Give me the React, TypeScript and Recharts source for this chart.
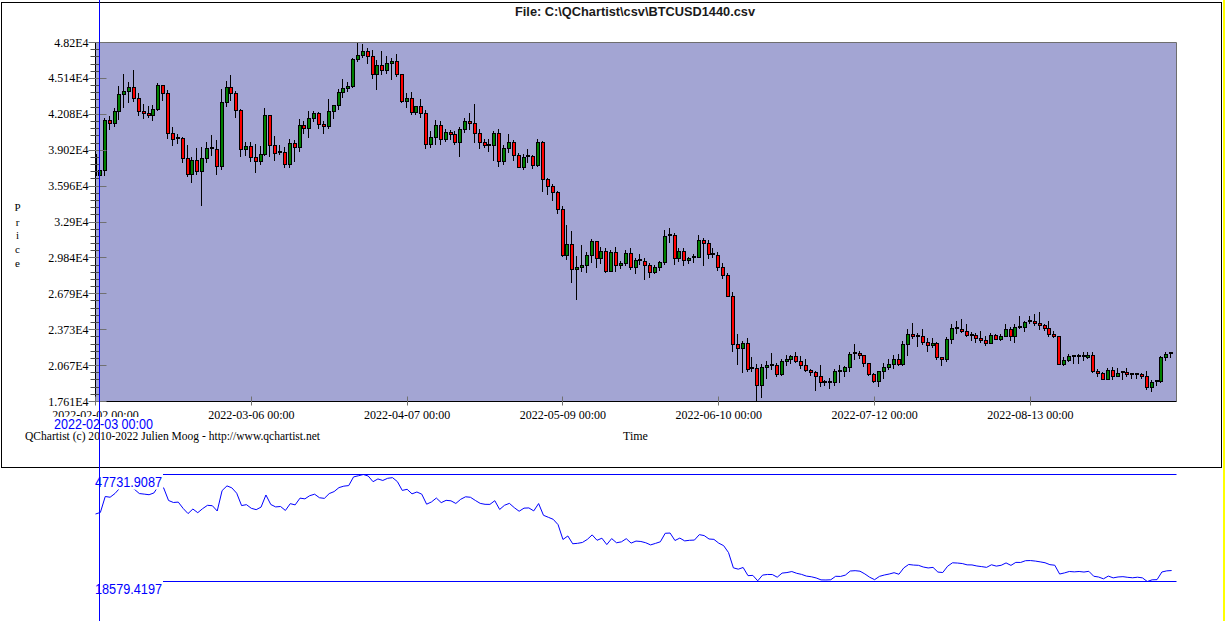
import React from 'react';
import { ComposedChart, Bar, XAxis, YAxis, CartesianGrid, ReferenceLine, LineChart, Line } from 'recharts';

const SERIF = "'Liberation Serif', 'Times New Roman', serif";
const SANS = "'Liberation Sans', Arial, sans-serif";

// BTCUSD daily candles, 2022-02-02 .. 2022-09-11 (one per day)
const opens = [
  38707, 36896, 37311, 41575, 41383, 42380, 43840, 44043, 44372, 43495,
  42373, 42217, 42053, 42535, 44544, 43873, 40515, 39974, 40080, 38386,
  37009, 38230, 37250, 38328, 39219, 39116, 37700, 43160, 44421, 43892,
  42454, 39148, 39397, 38420, 38062, 38737, 41982, 39437, 38794, 38904,
  37849, 39666, 39338, 41143, 40951, 41801, 42191, 41247, 41077, 42358,
  42892, 43960, 44348, 44500, 46820, 47128, 47465, 47062, 45538, 46281,
  45868, 46453, 46622, 45555, 43206, 43503, 42287, 42782, 42207, 39521,
  40127, 41166, 39935, 40553, 40424, 39716, 40827, 41503, 41374, 40527,
  39740, 39486, 39469, 40458, 38112, 39235, 39742, 38596, 37630, 38468,
  38525, 37728, 39690, 36552, 36013, 35472, 34038, 30076, 31017, 28936,
  29047, 29283, 30101, 31305, 29863, 30425, 28715, 30319, 29201, 29445,
  30293, 29109, 29655, 29543, 29202, 28630, 29031, 29468, 31734, 31801,
  29805, 30452, 29700, 29864, 29920, 31373, 31125, 30204, 30110, 29091,
  28424, 26574, 22487, 22136, 22584, 20401, 20469, 19018, 20554, 20720,
  20700, 19987, 21085, 21232, 21502, 21028, 20735, 20280, 20105, 19785,
  19270, 19243, 19297, 20232, 20190, 20548, 21638, 21732, 21592, 20860,
  19970, 19323, 20212, 20570, 20836, 21191, 20780, 22485, 23390, 23231,
  23164, 22714, 22465, 22609, 21361, 21239, 22930, 23843, 23777, 23643,
  23293, 23269, 22988, 22818, 22622, 23312, 22954, 23175, 23810, 23149,
  23954, 23934, 24403, 24442, 24305, 24094, 23854, 23342, 23191, 20834,
  21140, 21517, 21416, 21516, 21368, 21566, 20241, 20037, 19555, 20285,
  19811, 20050, 20131, 19951, 19832, 19986, 19813, 18837, 19290, 19329,
  21381, 21680,
];

const highs = [
  38855, 37387, 41772, 41913, 42656, 44500, 45492, 44799, 45822, 43920,
  42998, 42760, 42876, 44752, 44583, 44164, 40959, 40444, 40125, 39494,
  38429, 39249, 39300, 39683, 40300, 39855, 44225, 44949, 45400, 44102,
  42506, 39693, 39680, 39547, 39362, 42594, 42039, 40236, 39486, 39310,
  39947, 39887, 41718, 41478, 42325, 42400, 42301, 41544, 43361, 42897,
  44220, 45094, 44812, 46890, 48200, 48096, 47700, 47600, 46720, 47444,
  47030, 46890, 47200, 45555, 43900, 43970, 42800, 43410, 42414, 40699,
  41561, 41500, 40870, 40710, 40619, 40999, 41760, 42199, 42976, 40795,
  39980, 39940, 40617, 40797, 39474, 40372, 39925, 38795, 38675, 39167,
  38653, 39974, 39845, 36650, 36130, 35510, 34243, 32658, 32162, 30032,
  30976, 30334, 31460, 31305, 30788, 30700, 30545, 30777, 29624, 30487,
  30670, 29841, 30200, 29850, 29400, 29200, 29550, 32222, 32400, 31982,
  30656, 30695, 29942, 30165, 31765, 31555, 31330, 30700, 30390, 29440,
  28544, 26900, 23363, 22800, 22981, 21365, 20800, 20815, 21090, 21723,
  20880, 21210, 21534, 21600, 21861, 21520, 21200, 20418, 20180, 20750,
  19430, 19647, 20354, 20738, 20664, 21838, 22527, 21954, 21600, 20860,
  20047, 20250, 20880, 21200, 21588, 21684, 22743, 23800, 24283, 23430,
  23756, 22990, 23000, 22656, 21361, 23100, 24199, 24442, 24668, 24200,
  23500, 23462, 23647, 23221, 23462, 23354, 23400, 24245, 23934, 24200,
  24918, 24450, 24890, 25047, 25211, 24247, 24446, 23600, 23200, 21382,
  21692, 21522, 21666, 21816, 21819, 21850, 20343, 20141, 20431, 20576,
  20490, 20199, 20450, 20052, 20000, 20058, 20180, 19464, 19449, 21450,
  21795, 21830,
];

const lows = [
  36586, 36250, 36950, 40843, 41116, 41645, 42666, 43117, 43187, 42008,
  41748, 41870, 41570, 42428, 43310, 40073, 39450, 39639, 38000, 36800,
  36350, 37036, 34322, 38014, 38600, 37000, 37450, 42809, 43334, 41832,
  38550, 38587, 38088, 37155, 37867, 38656, 38539, 38223, 38660, 37578,
  37555, 38098, 38913, 40500, 40135, 41516, 40911, 40467, 40900, 41750,
  42560, 43579, 44072, 44421, 46663, 46950, 46445, 45200, 44200, 45530,
  45620, 45118, 45353, 43121, 42727, 42107, 42125, 41868, 39200, 39254,
  39588, 39551, 39766, 40019, 39546, 38536, 40571, 40820, 39751, 39177,
  39285, 38929, 38200, 37702, 37881, 38881, 38175, 37578, 37386, 38053,
  37509, 37670, 35571, 35258, 34785, 33713, 30033, 29730, 27785, 26350,
  28751, 28630, 29480, 29083, 29450, 28654, 28708, 28730, 28950, 29233,
  28900, 28600, 29294, 28020, 28260, 28565, 28850, 29300, 31200, 29302,
  29588, 29218, 29450, 29500, 29883, 29218, 29850, 29944, 28850, 28099,
  26560, 21925, 20846, 20111, 20232, 20246, 17610, 17960, 19637, 20348,
  19770, 19890, 20754, 20915, 20974, 20507, 20194, 19847, 18627, 18966,
  19010, 18781, 19055, 19305, 19762, 20242, 21190, 21320, 20655, 19875,
  19240, 18910, 19620, 20380, 20475, 20760, 20762, 21580, 23000, 22341,
  22500, 21934, 22266, 21250, 20706, 21043, 22582, 23414, 23500, 23232,
  22850, 22652, 22681, 22400, 22587, 22906, 22841, 23153, 22869, 22664,
  23855, 23590, 24298, 24150, 23773, 23693, 23181, 23077, 20783, 20761,
  21074, 20890, 20906, 21144, 21312, 20114, 19800, 19521, 19550, 19540,
  19800, 19565, 19754, 19655, 19600, 19636, 18650, 18510, 19000, 19300,
  21140, 21360,
];

const closes = [
  36896, 37311, 41575, 41383, 42380, 43840, 44043, 44372, 43495, 42373,
  42217, 42053, 42535, 44544, 43873, 40515, 39974, 40080, 38386, 37009,
  38230, 37250, 38328, 39219, 39116, 37700, 43160, 44421, 43892, 42454,
  39148, 39397, 38420, 38062, 38737, 41982, 39437, 38794, 38904, 37849,
  39666, 39338, 41143, 40951, 41801, 42191, 41247, 41077, 42358, 42892,
  43960, 44348, 44500, 46820, 47128, 47465, 47062, 45538, 46281, 45868,
  46453, 46622, 45555, 43206, 43503, 42287, 42782, 42207, 39521, 40127,
  41166, 39935, 40553, 40424, 39716, 40827, 41503, 41374, 40527, 39740,
  39486, 39469, 40458, 38112, 39235, 39742, 38596, 37630, 38468, 38525,
  37728, 39690, 36552, 36013, 35472, 34038, 30076, 31017, 28936, 29047,
  29283, 30101, 31305, 29863, 30425, 28715, 30319, 29201, 29445, 30293,
  29109, 29655, 29543, 29202, 28630, 29031, 29468, 31734, 31801, 29805,
  30452, 29700, 29864, 29920, 31373, 31125, 30204, 30110, 29091, 28424,
  26574, 22487, 22136, 22584, 20401, 20469, 19018, 20554, 20720, 20700,
  19987, 21085, 21232, 21502, 21028, 20735, 20280, 20105, 19785, 19270,
  19243, 19297, 20232, 20190, 20548, 21638, 21732, 21592, 20860, 19970,
  19323, 20212, 20570, 20836, 21191, 20780, 22485, 23390, 23231, 23164,
  22714, 22465, 22609, 21361, 21239, 22930, 23843, 23777, 23643, 23293,
  23269, 22988, 22818, 22622, 23312, 22954, 23175, 23810, 23149, 23954,
  23934, 24403, 24442, 24305, 24094, 23854, 23342, 23191, 20834, 21140,
  21517, 21416, 21516, 21368, 21566, 20241, 20037, 19555, 20285, 19811,
  20050, 20131, 19951, 19832, 19986, 19813, 18837, 19290, 19329, 21381,
  21680, 21769,
];

const xTickDays = [0, 32, 64, 96, 128, 160, 192];
const xTickLabels = [
  '2022-02-02 00:00', '2022-03-06 00:00', '2022-04-07 00:00', '2022-05-09 00:00',
  '2022-06-10 00:00', '2022-07-12 00:00', '2022-08-13 00:00',
];
const yTickLabels = [
  '4.82E4', '4.514E4', '4.208E4', '3.902E4', '3.596E4', '3.29E4',
  '2.984E4', '2.679E4', '2.373E4', '2.067E4', '1.761E4',
];
const titleText = 'File: C:\\QChartist\\csv\\BTCUSD1440.csv';
const xAxisTitle = 'Time';
const yAxisTitleLetters = ['P', 'r', 'i', 'c', 'e'];
const creditText = 'QChartist (c) 2010-2022 Julien Moog - http://www.qchartist.net';
const cursorLabel = '2022-02-03 00:00';
const lineMaxLabel = '47731.9087';
const lineMinLabel = '18579.4197';

const priceLow = Math.min(...lows);
const priceHigh = Math.max(...highs);
const xDomainMax = closes.length;
const closeMin = Math.min(...closes);
const closeMax = Math.max(...closes);

const candles = closes.map((c, i) => ({
  day: i,
  open: opens[i],
  high: highs[i],
  low: lows[i],
  close: c,
  range: [lows[i], highs[i]],
}));
const closeLine = closes.map((c, i) => ({ day: i, close: c }));

const Y_MINOR = 50;
const yStep = (priceHigh - priceLow) / Y_MINOR;
const yTicks = Array.from({ length: Y_MINOR + 1 }, (_, k) => priceHigh - k * yStep);

function Candle(props: any) {
  const { x, y, width, height, payload } = props;
  if (!payload || x == null || y == null) return null;
  const top = Math.min(y, y + height);
  const bot = Math.max(y, y + height);
  const span = payload.high - payload.low || 1;
  const py = (p: number) => top + ((payload.high - p) / span) * (bot - top);
  const cx = x + width / 2;
  const left = Math.round(cx - 2);
  const wx = left + 1.5;
  const yo = py(payload.open);
  const yc = py(payload.close);
  const t = Math.round(Math.min(yo, yc));
  const b = Math.round(Math.max(yo, yc));
  const fill = payload.close >= payload.open ? '#008000' : '#FF0000';
  return (
    <g>
      <line x1={wx} x2={wx} y1={Math.round(top)} y2={Math.round(bot) + 1} stroke="#000" strokeWidth={1} />
      {b - t >= 2 ? (
        <rect x={left + 0.5} y={t + 0.5} width={3} height={b - t} fill={fill} stroke="#000" strokeWidth={1} />
      ) : (
        <rect x={left} y={t - 1} width={4} height={2} fill="#000" />
      )}
    </g>
  );
}

function YTick(props: any) {
  const { x, y, payload } = props;
  const k = Math.round((priceHigh - payload.value) / yStep);
  const yy = Math.floor(y) + 0.5;
  if (k % 5 === 0) {
    return (
      <g>
        <line x1={x - 7} x2={x + 11} y1={yy} y2={yy} stroke="#707070" strokeWidth={1} />
        <text x={x - 7} y={y + 4} textAnchor="end" fontFamily={SERIF} fontSize={12} fill="#000">
          {yTickLabels[k / 5]}
        </text>
      </g>
    );
  }
  return <line x1={x - 5} x2={x + 4} y1={yy} y2={yy} stroke="#4a4a4a" strokeWidth={1} />;
}

function XTick(props: any) {
  const { x, y, payload } = props;
  const i = xTickDays.indexOf(payload.value);
  const xx = Math.floor(x) + 0.5;
  return (
    <g>
      <line x1={xx} x2={xx} y1={y - 5} y2={y + 4} stroke="#707070" strokeWidth={1} />
      <text x={x} y={y + 17} textAnchor="middle" fontFamily={SERIF} fontSize={12} fill="#000">
        {i >= 0 ? xTickLabels[i] : ''}
      </text>
    </g>
  );
}

export default function App() {
  return (
    <div style={{ position: 'absolute', left: 0, top: 0, width: 1225, height: 621, background: '#fff', overflow: 'hidden' }}>
      <div style={{ position: 'absolute', left: 0, top: 0 }}>
        <ComposedChart
          width={1225}
          height={470}
          data={candles}
          margin={{ top: 42.5, right: 48.5, bottom: 38.5, left: 35.5 }}
        >
          <CartesianGrid horizontal={false} vertical={false} fill="#A3A5D3" fillOpacity={1} />
          <XAxis
            type="number"
            dataKey="day"
            domain={[0, xDomainMax]}
            ticks={xTickDays}
            interval={0}
            allowDataOverflow
            height={30}
            tickSize={0}
            tickMargin={0}
            tickLine={false}
            axisLine={{ stroke: '#000' }}
            tick={<XTick />}
          />
          <YAxis
            type="number"
            domain={[priceLow, priceHigh]}
            ticks={yTicks}
            interval={0}
            allowDataOverflow
            width={60}
            tickSize={0}
            tickMargin={0}
            tickLine={false}
            axisLine={{ stroke: '#000' }}
            tick={<YTick />}
          />
          <ReferenceLine y={priceHigh} stroke="#6E6E6E" />
          <ReferenceLine x={xDomainMax} stroke="#6E6E6E" />
          <Bar dataKey="range" barSize={4} shape={<Candle />} isAnimationActive={false} />
        </ComposedChart>
      </div>
      <div style={{ position: 'absolute', left: 0, top: 470 }}>
        <LineChart
          width={1225}
          height={151}
          data={closeLine}
          margin={{ top: 4.5, right: 48.5, bottom: 39.5, left: 95.5 }}
        >
          <XAxis type="number" dataKey="day" domain={[0, xDomainMax]} hide />
          <YAxis type="number" domain={[closeMin, closeMax]} hide width={0} allowDataOverflow />
          <ReferenceLine y={closeMax} stroke="#0000FF" />
          <ReferenceLine y={closeMin} stroke="#0000FF" />
          <Line type="linear" dataKey="close" stroke="#0000FF" strokeWidth={1} dot={false} isAnimationActive={false} />
        </LineChart>
      </div>
      <svg
        width={1225}
        height={621}
        style={{ position: 'absolute', left: 0, top: 0, pointerEvents: 'none' }}
      >
        <rect x={1.5} y={2.5} width={1220} height={465} fill="none" stroke="#000" strokeWidth={1} />
        <rect x={1223} y={0} width={2} height={621} fill="#FFFF00" />
        <text x={635} y={16} textAnchor="middle" fontFamily={SANS} fontWeight="bold" fontSize={13.5} fill="#1a1a1a" textLength={240} lengthAdjust="spacingAndGlyphs">
          {titleText}
        </text>
        {yAxisTitleLetters.map((ch, i) => (
          <text key={i} x={17.5} y={[211, 225.5, 239, 253, 267][i]} textAnchor="middle" fontFamily={SERIF} fontSize={11} fill="#000">
            {ch}
          </text>
        ))}
        <text x={635.5} y={440} textAnchor="middle" fontFamily={SERIF} fontSize={12} fill="#000">
          {xAxisTitle}
        </text>
        <text x={25} y={440} fontFamily={SERIF} fontSize={12} fill="#000" textLength={295} lengthAdjust="spacingAndGlyphs">
          {creditText}
        </text>
        <rect x={52} y={417} width={104} height={14} fill="#fff" />
        <text x={54} y={429} fontFamily={SANS} fontSize={15} fill="#0000FF" textLength={99} lengthAdjust="spacingAndGlyphs">
          {cursorLabel}
        </text>
        <rect x={95} y={473.5} width={68} height={16} fill="#fff" />
        <text x={95} y={487} fontFamily={SANS} fontSize={14} fill="#0000FF" textLength={67} lengthAdjust="spacingAndGlyphs">
          {lineMaxLabel}
        </text>
        <rect x={95} y={580.5} width={68} height={16} fill="#fff" />
        <text x={95} y={594} fontFamily={SANS} fontSize={14} fill="#0000FF" textLength={67} lengthAdjust="spacingAndGlyphs">
          {lineMinLabel}
        </text>
        <line x1={99.5} x2={99.5} y1={0} y2={621} stroke="#0000FF" strokeWidth={1} />
      </svg>
    </div>
  );
}
